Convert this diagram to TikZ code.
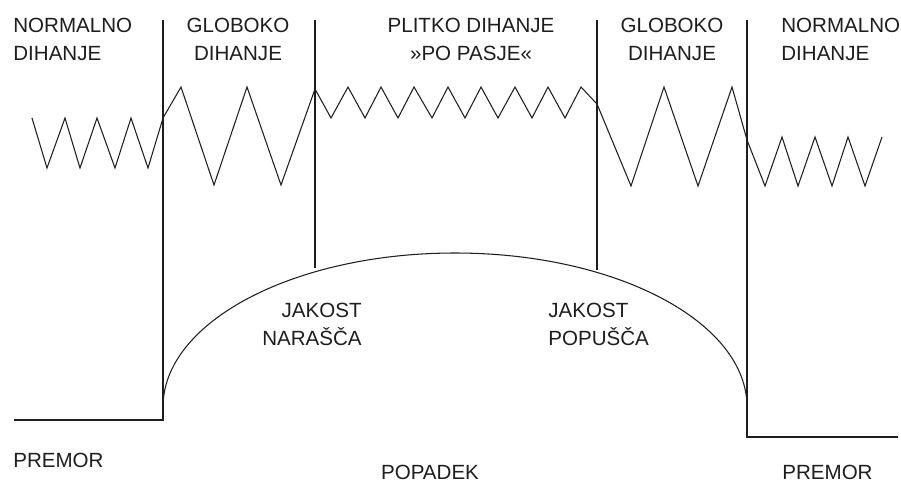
\documentclass[tikz,border=0pt]{standalone}
\usepackage{fontspec}
\setmainfont{Liberation Sans}
\definecolor{paper}{HTML}{FFFFFF}
\definecolor{ink}{HTML}{1E1E1E}

\begin{document}
\begin{tikzpicture}[x=.02cm,y=-.02cm,every node/.style={font=\fontsize{11.7}{15.9}\selectfont,text=ink,inner sep=0pt},trace/.style={ink,line width=.6pt,line join=miter},divider/.style={ink,line width=.6pt}]
\fill[paper] (0,0) rectangle (901,484);
% phase dividers and rest lines
\draw[divider] (14,420)--(163,420)--(163,20);\draw[divider] (315,20)--(315,268);\draw[divider] (597,20)--(597,270);\draw[divider] (747,20)--(747,437)--(898,437);
% strength of the attack
\draw[trace] (163,407) arc[start angle=180,end angle=360,x radius=292,y radius=154];
% breathing
\draw[trace] (32,118)--(47,168)--(65,118)--(80,168)--(97,118)--(115,168)--(131,118)--(148,168)--(163,118)--(181,87)--(214,185)--(247,87)--(281,185)--(315,89)
 --(331,118)--(348,87)--(365,118)--(381,87)--(398,118)--(414,87)--(432,118)--(448,87)--(465,118)--(481,87)--(498,118)--(515,87)--(532,118)--(548,87)--(565,118)--(581,87)--(597,104)
 --(631,186)--(664,87)--(698,186)--(732,87)--(747,140)--(765,186)--(782,137)--(798,186)--(815,137)--(832,186)--(848,137)--(865,186)--(882,137);
% labels
\node[anchor=north west,align=left] (normalL) at (13,18){NORMALNO\\DIHANJE};
\node[anchor=north,align=center] (globokoL) at (238,18){GLOBOKO\\DIHANJE};
\node[anchor=north,align=center] (plitko) at (471,18){PLITKO DIHANJE\\»PO PASJE«};
\node[anchor=north,align=center] (globokoR) at (672,18){GLOBOKO\\DIHANJE};
\node[anchor=north west,align=left] (normalR) at (781,18){NORMALNO\\DIHANJE};
\node[anchor=north east,align=right] (narasca) at (362,303){JAKOST\\NARAŠČA};
\node[anchor=north west,align=left] (popusca) at (548,303){JAKOST\\POPUŠČA};
\node[anchor=north west] (premorL) at (13,453){PREMOR};
\node[anchor=north] (popadek) at (430,465){POPADEK};
\node[anchor=north west] (premorR) at (782,465){PREMOR};
\end{tikzpicture}
\end{document}
